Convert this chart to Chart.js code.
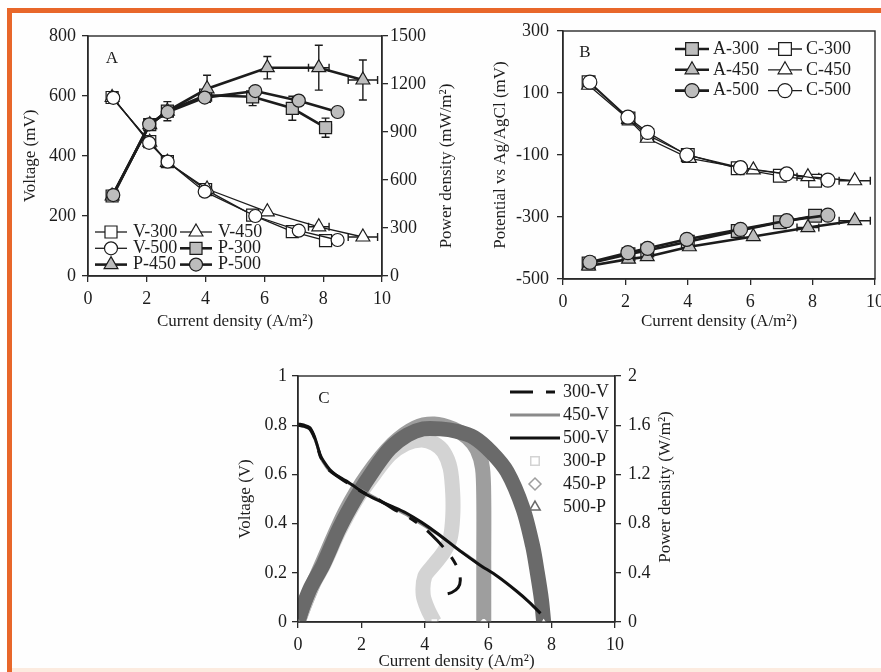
<!DOCTYPE html>
<html lang="en">
<head>
    <meta charset="UTF-8">
    <title>Cell voltage, electrode potentials and power density</title>
    <script src="https://cdn.jsdelivr.net/npm/chart.js"></script>
    <style>
        html, body {
            margin: 0;
            padding: 0;
            background: #fff;
            overflow: hidden;
        }

        body {
            width: 881px;
            height: 672px;
            position: relative;
        }

        .frame {
            position: absolute;
            left: 7px;
            top: 8px;
            right: 0;
            bottom: 0;
            border-left: 5px solid #e8672a;
            border-top: 5px solid #e8672a;
            background: #fefefe;
        }

        .frame-foot {
            position: absolute;
            left: 12px;
            right: 0;
            bottom: 0;
            height: 4px;
            background: #fcebdf;
        }

        canvas {
            position: absolute;
        }

        #panelA { left: 0; top: 0; }
        #panelB { left: 440px; top: 0; }
        #panelC { left: 220px; top: 340px; }
    </style>
</head>
<body>
    <div class="frame"></div>
    <div class="frame-foot"></div>
    <canvas id="panelA" width="470" height="340"></canvas>
    <canvas id="panelB" width="460" height="340"></canvas>
    <canvas id="panelC" width="470" height="332"></canvas>

    <script>
        // current density (A/m2) at each external resistance
        const cd300 = [0.82, 2.1, 2.7, 4.0, 5.6, 6.95, 8.08];
        const cd450 = [0.82, 2.1, 2.7, 4.05, 6.1, 7.85, 9.35];
        const cd500 = [0.86, 2.08, 2.71, 3.97, 5.69, 7.17, 8.49];
        const cd300Err = [0, 0, 0, 0, 0, 0, 0.2];
        const cd450Err = [0, 0, 0, 0, 0, 0.35, 0.5];

        // A: cell voltage (mV) and power density (mW/m2)
        const volt300 = [595, 448, 381, 288, 203, 148, 118];
        const volt450 = [595, 446, 379, 290, 214, 164, 130];
        const volt500 = [594, 444, 381, 281, 200, 151, 120];
        const pow300 = [500, 946, 1030, 1130, 1120, 1048, 927];
        const pow450 = [500, 946, 1030, 1170, 1302, 1302, 1225];
        const pow500 = [506, 948, 1025, 1115, 1156, 1096, 1025];
        const pow300Err = [0, 0, 60, 0, 55, 75, 60];
        const pow450Err = [0, 0, 0, 85, 70, 140, 125];

        // B: anode / cathode potential vs Ag/AgCl (mV)
        const anode300 = [-450, -420, -408, -380, -345, -317, -296];
        const anode450 = [-458, -436, -428, -396, -363, -334, -312];
        const anode500 = [-446, -415, -401, -372, -340, -312, -294];
        const cathode300 = [135, 18, -35, -100, -143, -167, -183];
        const cathode450 = [125, 15, -46, -111, -148, -170, -183];
        const cathode500 = [135, 22, -27, -100, -141, -161, -181];

        // C: polarization sweeps, voltage (V) vs current density
        const polI300 = [0, 0.2, 0.37, 0.5, 0.6, 0.7, 0.8, 1.0, 1.5, 2.0, 2.5, 3.0, 3.5, 4.0, 4.4, 4.8, 5.05, 5.12, 5.05, 4.85, 4.6, 4.4];
        const polV300 = [0.80, 0.795, 0.785, 0.755, 0.72, 0.675, 0.65, 0.615, 0.57, 0.53, 0.5, 0.46, 0.425, 0.38, 0.33, 0.27, 0.215, 0.17, 0.14, 0.12, 0.112, 0.11];
        const polI450 = [0, 0.2, 0.37, 0.5, 0.6, 0.7, 0.8, 1.0, 1.5, 2.0, 2.5, 3.0, 3.5, 4.0, 4.5, 5.0, 5.5, 5.86];
        const polV450 = [0.80, 0.795, 0.785, 0.755, 0.72, 0.675, 0.65, 0.615, 0.572, 0.535, 0.5, 0.465, 0.43, 0.39, 0.35, 0.3, 0.255, 0.22];
        const polI500 = [0, 0.2, 0.37, 0.5, 0.58, 0.7, 0.8, 1.0, 1.2, 1.5, 1.85, 2.2, 2.6, 3.0, 3.4, 3.9, 4.4, 5.1, 5.7, 6.3, 6.9, 7.3, 7.65];
        const polV500 = [0.805, 0.80, 0.79, 0.76, 0.73, 0.68, 0.655, 0.62, 0.598, 0.575, 0.545, 0.515, 0.49, 0.468, 0.444, 0.405, 0.36, 0.29, 0.235, 0.185, 0.125, 0.08, 0.035];

        // C: power density (W/m2) from the same sweeps
        const powI300 = [0, 0.4, 0.8, 1.3, 1.85, 2.4, 2.9, 3.4, 3.9, 4.3, 4.6, 4.8, 4.88, 4.88, 4.8, 4.6, 4.3, 4.0, 3.95, 4.1, 4.3];
        const powP300 = [0, 0.27, 0.46, 0.74, 1.0, 1.2, 1.36, 1.45, 1.48, 1.45, 1.38, 1.25, 1.05, 0.85, 0.68, 0.57, 0.47, 0.37, 0.22, 0.1, 0];
        const powI450 = [0, 0.3, 0.8, 1.5, 2.2, 3.0, 3.7, 4.3, 4.9, 5.35, 5.65, 5.82, 5.86, 5.86, 5.86];
        const powP450 = [0, 0.2, 0.5, 0.9, 1.2, 1.45, 1.58, 1.61, 1.57, 1.5, 1.4, 1.25, 1.0, 0.5, 0];
        const powI500 = [0, 0.15, 0.4, 0.8, 1.3, 1.85, 2.4, 2.9, 3.45, 3.95, 4.5, 5.0, 5.55, 6.1, 6.6, 7.1, 7.4, 7.55, 7.68, 7.75];
        const powP500 = [0, 0.12, 0.28, 0.47, 0.76, 1.02, 1.24, 1.41, 1.52, 1.57, 1.57, 1.55, 1.5, 1.38, 1.22, 0.92, 0.62, 0.4, 0.18, 0];

        const serif = "'Liberation Serif', 'Times New Roman', serif";
        const ink = '#1c1c1c';
        const markFill = '#bdbdbd';

        Chart.defaults.font.family = serif;
        Chart.defaults.font.size = 18;
        Chart.defaults.color = ink;

        function pts(xs, ys) {
            return xs.map((x, i) => ({ x: x, y: ys[i] }));
        }

        // keeps the axis boxes at a fixed size so the plot areas line up
        function fixSize(size) {
            return function (scale) {
                scale.paddingLeft = 0;
                scale.paddingRight = 0;
                scale.paddingTop = 0;
                scale.paddingBottom = 0;
                if (scale.isHorizontal()) {
                    scale.height = size;
                } else {
                    scale.width = size;
                }
            };
        }

        // plain tick text: 1500 rather than 1,500, 1 rather than 1.0
        function plainTick(value) {
            return String(Number(value.toFixed(3)));
        }

        function linAxis(position, min, max, step, title, size, pad) {
            return {
                type: 'linear',
                position: position,
                min: min,
                max: max,
                afterFit: fixSize(size),
                border: { display: true, color: '#2a2a2a', width: 1.4 },
                grid: { drawOnChartArea: false, tickLength: 6, color: '#2a2a2a', lineWidth: 1.3 },
                ticks: {
                    stepSize: step,
                    padding: pad,
                    maxRotation: 0,
                    autoSkip: false,
                    color: ink,
                    font: { family: serif, size: 18 },
                    callback: plainTick
                },
                title: {
                    display: !!title,
                    text: title || '',
                    color: ink,
                    padding: 0,
                    font: { family: serif, size: 17 }
                }
            };
        }

        function drawMark(ctx, style, x, y, r) {
            ctx.beginPath();
            if (style === 'rect') {
                const s = r * Math.SQRT1_2;
                ctx.rect(x - s, y - s, 2 * s, 2 * s);
            } else if (style === 'triangle') {
                ctx.moveTo(x, y - r);
                ctx.lineTo(x + r * 0.866, y + r * 0.5);
                ctx.lineTo(x - r * 0.866, y + r * 0.5);
                ctx.closePath();
            } else if (style === 'rectRot') {
                ctx.moveTo(x, y - r);
                ctx.lineTo(x + r, y);
                ctx.lineTo(x, y + r);
                ctx.lineTo(x - r, y);
                ctx.closePath();
            } else {
                ctx.arc(x, y, r, 0, Math.PI * 2);
            }
            ctx.fill();
            ctx.stroke();
        }

        // error bars from dataset.errY / dataset.errX
        const errorBars = {
            id: 'errorBars',
            beforeDatasetsDraw(chart) {
                const ctx = chart.ctx;
                chart.data.datasets.forEach(ds => {
                    if (!ds.errY && !ds.errX) return;
                    const xs = chart.scales.x;
                    const ys = chart.scales[ds.yAxisID || 'y'];
                    ctx.save();
                    ctx.strokeStyle = ink;
                    ctx.lineWidth = 1.4;
                    ds.data.forEach((p, i) => {
                        const px = xs.getPixelForValue(p.x);
                        const py = ys.getPixelForValue(p.y);
                        const ey = ds.errY ? ds.errY[i] : 0;
                        const ex = ds.errX ? ds.errX[i] : 0;
                        ctx.beginPath();
                        if (ey) {
                            const t = ys.getPixelForValue(p.y + ey);
                            const b = ys.getPixelForValue(p.y - ey);
                            ctx.moveTo(px, t); ctx.lineTo(px, b);
                            ctx.moveTo(px - 4, t); ctx.lineTo(px + 4, t);
                            ctx.moveTo(px - 4, b); ctx.lineTo(px + 4, b);
                        }
                        if (ex) {
                            const l = xs.getPixelForValue(p.x - ex);
                            const r = xs.getPixelForValue(p.x + ex);
                            ctx.moveTo(l, py); ctx.lineTo(r, py);
                            ctx.moveTo(l, py - 4); ctx.lineTo(l, py + 4);
                            ctx.moveTo(r, py - 4); ctx.lineTo(r, py + 4);
                        }
                        ctx.stroke();
                    });
                    ctx.restore();
                });
            }
        };

        // plot frame, panel letter, rotated right-hand title and the inset legend
        const decor = {
            id: 'decor',
            afterDraw(chart, args, opts) {
                const ctx = chart.ctx;
                const a = chart.chartArea;
                ctx.save();
                ctx.strokeStyle = '#2a2a2a';
                ctx.lineWidth = 1.4;
                ctx.strokeRect(a.left, a.top, a.right - a.left, a.bottom - a.top);

                ctx.fillStyle = ink;
                ctx.font = '17px ' + serif;
                ctx.textBaseline = 'middle';
                ctx.textAlign = 'center';
                if (opts.letter) {
                    ctx.fillText(opts.letter, a.left + opts.letterX, a.top + opts.letterY);
                }

                if (opts.sideTitle) {
                    ctx.save();
                    ctx.translate(opts.sideX, (a.top + a.bottom) / 2 + opts.sideDy);
                    ctx.rotate(-Math.PI / 2);
                    ctx.fillText(opts.sideTitle, 0, 0);
                    ctx.restore();
                }

                const lg = opts.legend;
                if (lg) {
                    ctx.font = '18px ' + serif;
                    lg.items.forEach(it => {
                        const ds = chart.data.datasets[it.ds];
                        const x0 = a.left + lg.x + it.col * lg.colGap;
                        const y = a.top + lg.y + it.row * lg.rowGap;
                        if (it.line) {
                            ctx.save();
                            ctx.strokeStyle = ds.borderColor;
                            ctx.lineWidth = ds.borderWidth;
                            ctx.setLineDash(lg.dash && ds.borderDash ? ds.borderDash : []);
                            ctx.beginPath();
                            ctx.moveTo(x0, y);
                            ctx.lineTo(x0 + lg.lineLen, y);
                            ctx.stroke();
                            ctx.restore();
                        }
                        if (it.mark) {
                            ctx.fillStyle = ds.pointBackgroundColor;
                            ctx.strokeStyle = ds.pointBorderColor;
                            ctx.lineWidth = ds.pointBorderWidth;
                            drawMark(ctx, ds.pointStyle, x0 + lg.lineLen / 2, y, lg.markR || ds.pointRadius);
                        }
                        ctx.fillStyle = ink;
                        ctx.textAlign = 'left';
                        ctx.fillText(ds.label, x0 + lg.lineLen + lg.textGap, y);
                    });
                }
                ctx.restore();
            }
        };

        function markerSeries(label, data, axis, style, r, fill, width, order) {
            return {
                label: label,
                data: data,
                yAxisID: axis,
                showLine: true,
                borderColor: ink,
                borderWidth: width,
                pointStyle: style,
                pointRadius: r,
                pointHoverRadius: r,
                pointBackgroundColor: fill,
                pointBorderColor: ink,
                pointBorderWidth: 1.2,
                order: order
            };
        }

        const baseOptions = {
            responsive: false,
            animation: false,
            devicePixelRatio: 1,
            events: []
        };

        // Panel A (lower order is drawn on top)
        const vSet300 = markerSeries('V-300', pts(cd300, volt300), 'y', 'rect', 8.5, '#fff', 1.3, 5);
        const vSet450 = markerSeries('V-450', pts(cd450, volt450), 'y', 'triangle', 8, '#fff', 1.3, 4);
        const vSet500 = markerSeries('V-500', pts(cd500, volt500), 'y', 'circle', 6.5, '#fff', 1.3, 3);
        const pSet300 = markerSeries('P-300', pts(cd300, pow300), 'y2', 'rect', 8.5, markFill, 2.6, 2);
        const pSet450 = markerSeries('P-450', pts(cd450, pow450), 'y2', 'triangle', 8, markFill, 2.6, 1);
        const pSet500 = markerSeries('P-500', pts(cd500, pow500), 'y2', 'circle', 6.5, markFill, 2.6, 0);
        vSet450.errX = cd450Err;
        pSet300.errY = pow300Err;
        pSet300.errX = cd300Err;
        pSet450.errY = pow450Err;
        pSet450.errX = cd450Err;

        new Chart(document.getElementById('panelA'), {
            type: 'scatter',
            data: { datasets: [vSet300, vSet450, vSet500, pSet300, pSet450, pSet500] },
            options: Object.assign({}, baseOptions, {
                layout: { padding: { left: 20, right: 13, top: 36, bottom: 8 } },
                scales: {
                    x: linAxis('bottom', 0, 10, 2, 'Current density (A/m²)', 56, 6),
                    y: linAxis('left', 0, 800, 200, 'Voltage (mV)', 68, 6),
                    y2: linAxis('right', 0, 1500, 300, '', 75, 2)
                },
                plugins: {
                    legend: { display: false },
                    tooltip: { enabled: false },
                    decor: {
                        letter: 'A', letterX: 24, letterY: 23,
                        sideTitle: 'Power density (mW/m²)', sideX: 447, sideDy: 10,
                        legend: {
                            x: 7, y: 196, rowGap: 16.3, colGap: 85, lineLen: 32, textGap: 6,
                            items: [
                                { ds: 0, row: 0, col: 0, line: true, mark: true },
                                { ds: 1, row: 0, col: 1, line: true, mark: true },
                                { ds: 2, row: 1, col: 0, line: true, mark: true },
                                { ds: 3, row: 1, col: 1, line: true, mark: true },
                                { ds: 4, row: 2, col: 0, line: true, mark: true },
                                { ds: 5, row: 2, col: 1, line: true, mark: true }
                            ]
                        }
                    }
                }
            }),
            plugins: [errorBars, decor]
        });

        // Panel B
        const aSet300 = markerSeries('A-300', pts(cd300, anode300), 'y', 'rect', 9, markFill, 2.6, 5);
        const cSet300 = markerSeries('C-300', pts(cd300, cathode300), 'y', 'rect', 9, '#fff', 1.3, 4);
        const aSet450 = markerSeries('A-450', pts(cd450, anode450), 'y', 'triangle', 8, markFill, 2.6, 3);
        const cSet450 = markerSeries('C-450', pts(cd450, cathode450), 'y', 'triangle', 8, '#fff', 1.3, 2);
        const aSet500 = markerSeries('A-500', pts(cd500, anode500), 'y', 'circle', 7, markFill, 2.6, 1);
        const cSet500 = markerSeries('C-500', pts(cd500, cathode500), 'y', 'circle', 7, '#fff', 1.3, 0);
        aSet450.errX = cd450Err;
        cSet450.errX = cd450Err;

        new Chart(document.getElementById('panelB'), {
            type: 'scatter',
            data: { datasets: [aSet300, cSet300, aSet450, cSet450, aSet500, cSet500] },
            options: Object.assign({}, baseOptions, {
                layout: { padding: { left: 50, right: 25, top: 31, bottom: 8 } },
                scales: {
                    x: linAxis('bottom', 0, 10, 2, 'Current density (A/m²)', 53, 6),
                    y: linAxis('left', -500, 300, 200, 'Potential vs Ag/AgCl (mV)', 73, 8)
                },
                plugins: {
                    legend: { display: false },
                    tooltip: { enabled: false },
                    decor: {
                        letter: 'B', letterX: 22, letterY: 22,
                        legend: {
                            x: 112, y: 18, rowGap: 20.8, colGap: 93, lineLen: 34, textGap: 4,
                            items: [
                                { ds: 0, row: 0, col: 0, line: true, mark: true },
                                { ds: 1, row: 0, col: 1, line: true, mark: true },
                                { ds: 2, row: 1, col: 0, line: true, mark: true },
                                { ds: 3, row: 1, col: 1, line: true, mark: true },
                                { ds: 4, row: 2, col: 0, line: true, mark: true },
                                { ds: 5, row: 2, col: 1, line: true, mark: true }
                            ]
                        }
                    }
                }
            }),
            plugins: [errorBars, decor]
        });

        // Panel C
        function endMark(c) {
            const n = c.dataset.data.length;
            return (c.dataIndex === 0 || c.dataIndex === n - 1) ? 5 : 0;
        }

        function sweepLine(label, data, color, dash, order) {
            return {
                label: label,
                data: data,
                yAxisID: 'y',
                showLine: true,
                borderColor: color,
                borderWidth: 3,
                borderDash: dash,
                tension: 0.3,
                pointRadius: 0,
                order: order
            };
        }

        function powerBand(label, data, color, style, order) {
            return {
                label: label,
                data: data,
                yAxisID: 'y2',
                showLine: true,
                borderColor: color,
                borderWidth: 15,
                borderJoinStyle: 'round',
                tension: 0.3,
                pointStyle: style,
                pointRadius: endMark,
                pointBackgroundColor: '#fff',
                pointBorderColor: color,
                pointBorderWidth: 1.5,
                order: order
            };
        }

        new Chart(document.getElementById('panelC'), {
            type: 'scatter',
            data: {
                datasets: [
                    sweepLine('300-V', pts(polI300, polV300), '#111', [23, 13, 9, 13], 1),
                    sweepLine('450-V', pts(polI450, polV450), '#8a8a8a', [], 2),
                    sweepLine('500-V', pts(polI500, polV500), '#111', [], 0),
                    powerBand('300-P', pts(powI300, powP300), '#d3d3d3', 'rect', 4),
                    powerBand('450-P', pts(powI450, powP450), '#9e9e9e', 'rectRot', 5),
                    powerBand('500-P', pts(powI500, powP500), '#6a6a6a', 'triangle', 3)
                ]
            },
            options: Object.assign({}, baseOptions, {
                layout: { padding: { left: 15, right: 10, top: 36, bottom: 0 } },
                scales: {
                    x: linAxis('bottom', 0, 10, 2, 'Current density (A/m²)', 50, 6),
                    y: linAxis('left', 0, 1, 0.2, 'Voltage (V)', 63, 5),
                    y2: linAxis('right', 0, 2, 0.4, '', 65, 7)
                },
                plugins: {
                    legend: { display: false },
                    tooltip: { enabled: false },
                    decor: {
                        letter: 'C', letterX: 26, letterY: 23,
                        sideTitle: 'Power density (W/m²)', sideX: 446, sideDy: -12,
                        legend: {
                            x: 212, y: 16, rowGap: 23, colGap: 0, lineLen: 50, textGap: 3, markR: 6, dash: true,
                            items: [
                                { ds: 0, row: 0, col: 0, line: true, mark: false },
                                { ds: 1, row: 1, col: 0, line: true, mark: false },
                                { ds: 2, row: 2, col: 0, line: true, mark: false },
                                { ds: 3, row: 3, col: 0, line: false, mark: true },
                                { ds: 4, row: 4, col: 0, line: false, mark: true },
                                { ds: 5, row: 5, col: 0, line: false, mark: true }
                            ]
                        }
                    }
                }
            }),
            plugins: [decor]
        });
    </script>
</body>
</html>
